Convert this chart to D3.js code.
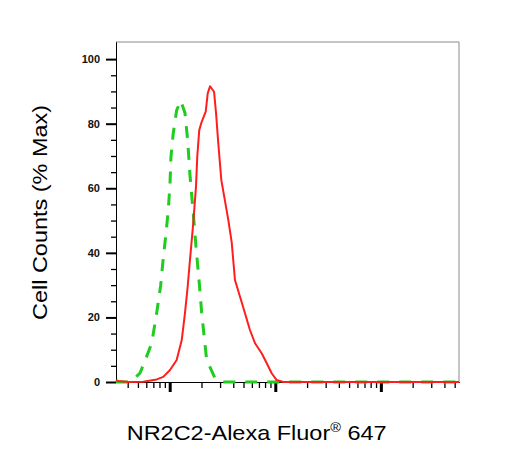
<!DOCTYPE html>
<html>
<head>
<meta charset="utf-8">
<script src="https://cdn.jsdelivr.net/npm/d3@7"></script>
<style>
  body { margin: 0; background: #fff; }
  svg text { font-family: "Liberation Sans", Arial, sans-serif; }
</style>
</head>
<body>
<div id="chart"></div>
<script>
// Datos (intensidad, % max)
const isoX = [3.1, 4.03, 4.59, 5.24, 5.97, 6.76, 7.53, 8.22, 8.69, 9.23, 9.70, 10.07, 10.28, 10.81, 11.64, 12.71, 13.96, 14.79, 15.56, 16.71, 17.74, 19.05, 20.09, 22.39, 26.85, 31.99, 5495];
const isoY = [0, 0, 1.0, 2.8, 7.4, 12.1, 21.4, 30.0, 38.4, 46.1, 53.3, 61.6, 69.7, 77.1, 84.2, 87.1, 83.3, 74.9, 64.1, 52.3, 41.9, 30.7, 21.4, 6.8, 1.2, 0, 0];

const nrX = [3.1, 3.26, 4.06, 5.62, 7.53, 8.69, 10.07, 11.64, 13.0, 13.96, 14.79, 15.56, 16.71, 17.74, 18.24, 19.05, 20.09, 21.93, 22.91, 24.10, 26.30, 27.48, 28.84, 30.83, 35.89, 38.64, 41.50, 46.35, 51.64, 57.54, 64.27, 74.30, 82.99, 92.47, 103.0, 119.1, 5495];
const nrY = [0.6, 0.3, 0, 0.1, 0.8, 1.6, 3.7, 6.8, 13.0, 21.4, 29.5, 37.8, 49.2, 60.5, 69.8, 78.0, 80.6, 83.7, 89.4, 91.6, 89.9, 83.3, 74.0, 62.5, 50.2, 43.3, 31.6, 26.4, 21.3, 16.1, 12.0, 8.9, 5.8, 2.7, 0.6, 0, 0];

const yMajor = [0, 20, 40, 60, 80, 100];
const yMinor = [5, 10, 15, 25, 30, 35, 45, 50, 55, 65, 70, 75, 85, 90, 95];
const xMajor = [10, 100, 1000];
const xMinor = [4, 5, 6, 7, 8, 9, 20, 30, 40, 50, 60, 70, 80, 90, 200, 300, 400, 500, 600, 700, 800, 900, 2000, 3000, 4000, 5000];

const width = 516, height = 463;
const mLeft = 116, mRight = 459, mTop = 42, mBottom = 382;

const svg = d3.select('#chart').append('svg')
    .attr('width', width)
    .attr('height', height);

// Escalas
const x = d3.scaleLog().domain([3.1, 5495]).range([mLeft, mRight]);
const y = d3.scaleLinear().domain([0, 105.3]).range([mBottom, mTop]);

// Marco gris arriba y a la derecha
svg.append('path')
    .attr('d', `M${mLeft},${mTop}H${mRight}V${mBottom}`)
    .attr('fill', 'none')
    .attr('stroke', '#8a8a8a')
    .attr('stroke-width', 1);

// Eje Y
const yMin = svg.append('g').attr('transform', `translate(${mLeft},0)`)
    .call(d3.axisLeft(y).tickValues(yMinor).tickSize(5).tickSizeOuter(0).tickFormat(''));
yMin.selectAll('.tick line').attr('stroke-width', 1.3);
const yMaj = svg.append('g').attr('transform', `translate(${mLeft},0)`)
    .call(d3.axisLeft(y).tickValues(yMajor).tickSize(10).tickSizeOuter(0).tickPadding(6));
yMaj.selectAll('.tick line').attr('stroke-width', 2);
yMaj.selectAll('.tick text').attr('font-size', 11).attr('font-weight', 'bold').attr('fill', '#111');

// Eje X (log)
const xMin = svg.append('g').attr('transform', `translate(0,${mBottom})`)
    .call(d3.axisBottom(x).tickValues(xMinor).tickSize(6).tickSizeOuter(0).tickFormat(''));
xMin.selectAll('.tick line').attr('stroke-width', 1.3);
const xMaj = svg.append('g').attr('transform', `translate(0,${mBottom})`)
    .call(d3.axisBottom(x).tickValues(xMajor).tickSize(10).tickSizeOuter(0).tickFormat(''));
xMaj.selectAll('.tick line').attr('stroke-width', 3);
svg.selectAll('.domain').attr('stroke', '#000');

// Curvas
const line = (xs, ys) => d3.line()
    .x((d, i) => x(xs[i]))
    .y(d => y(d))(ys);

svg.append('path')
    .attr('d', line(isoX, isoY))
    .attr('fill', 'none')
    .attr('stroke', '#1fcc1f')
    .attr('stroke-width', 3)
    .attr('stroke-dasharray', '12,10');

svg.append('path')
    .attr('d', line(nrX, nrY))
    .attr('fill', 'none')
    .attr('stroke', '#ff1e1e')
    .attr('stroke-width', 2)
    .attr('stroke-linejoin', 'round');

// Titulos de ejes
svg.append('text')
    .attr('transform', 'translate(46.5,212.5) rotate(-90)')
    .attr('text-anchor', 'middle')
    .attr('font-size', 20)
    .attr('textLength', 215)
    .attr('lengthAdjust', 'spacingAndGlyphs')
    .text('Cell Counts (% Max)');

const xt = svg.append('text')
    .attr('x', 126.7)
    .attr('y', 440)
    .attr('font-size', 21)
    .attr('textLength', 260)
    .attr('lengthAdjust', 'spacingAndGlyphs');
xt.append('tspan').text('NR2C2-Alexa Fluor');
xt.append('tspan').attr('font-size', 13).attr('dy', -8).text('®');
xt.append('tspan').attr('dy', 8).text(' 647');
</script>
</body>
</html>
